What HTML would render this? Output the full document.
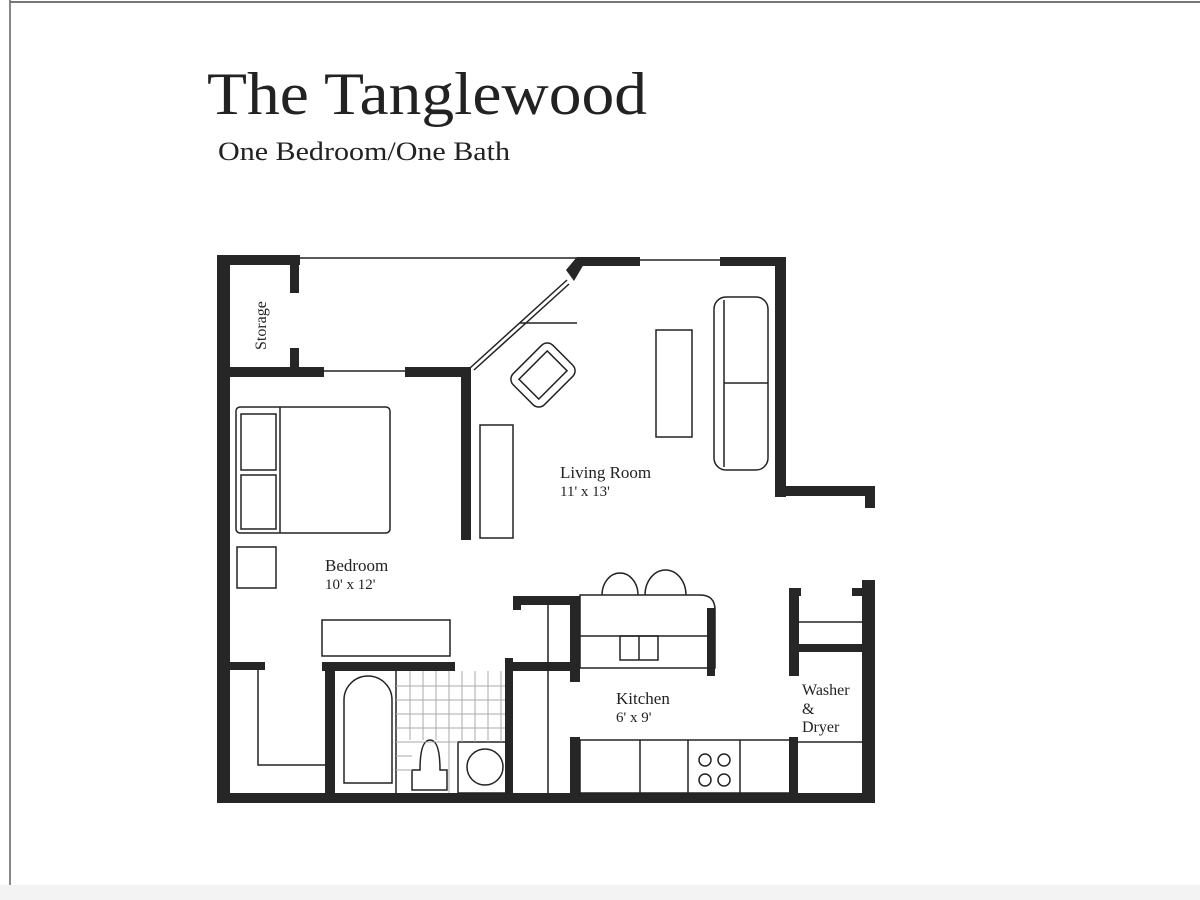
<!DOCTYPE html>
<html><head><style>
html,body{margin:0;padding:0;background:#fff;}
svg{display:block;}
text{font-family:"Liberation Serif",serif;fill:#222;}
</style></head><body>
<svg width="1200" height="900" viewBox="0 0 1200 900">
<rect width="1200" height="900" fill="#fff"/>
<line x1="10" y1="0" x2="10" y2="900" stroke="#888" stroke-width="2"/>
<line x1="10" y1="2" x2="1200" y2="2" stroke="#777" stroke-width="2"/>
<rect x="0" y="885" width="1200" height="15" fill="#f3f3f3"/>
<text x="207" y="114" font-size="60" textLength="440" lengthAdjust="spacingAndGlyphs">The Tanglewood</text>
<text x="218" y="160" font-size="26" textLength="292" lengthAdjust="spacingAndGlyphs">One Bedroom/One Bath</text>

<g fill="#262626">
<rect x="217" y="255" width="13" height="548"/>
<rect x="217" y="255" width="83" height="10"/>
<rect x="290" y="255" width="9" height="38"/>
<rect x="290" y="348" width="9" height="26"/>
<rect x="217" y="367" width="107" height="10"/>
<rect x="405" y="367" width="66" height="10"/>
<rect x="461" y="367" width="10" height="173"/>
<polygon points="566,270 576,258 584,264 574,281"/>
<rect x="577" y="257" width="63" height="9"/>
<rect x="720" y="257" width="66" height="9"/>
<rect x="775" y="257" width="11" height="240"/>
<rect x="775" y="486" width="100" height="10"/>
<rect x="865" y="486" width="10" height="22"/>
<rect x="217" y="793" width="658" height="10"/>
<rect x="862" y="580" width="13" height="223"/>
<rect x="852" y="588" width="12" height="8"/>
<rect x="789" y="588" width="10" height="88"/>
<rect x="789" y="588" width="12" height="8"/>
<rect x="798" y="644" width="64" height="8"/>
<rect x="789" y="737" width="9" height="60"/>
<rect x="513" y="596" width="67" height="9"/>
<rect x="513" y="596" width="8" height="14"/>
<rect x="570" y="596" width="10" height="86"/>
<rect x="707" y="608" width="8" height="68"/>
<rect x="570" y="737" width="10" height="60"/>
<rect x="217" y="662" width="48" height="8"/>
<rect x="322" y="662" width="133" height="9"/>
<rect x="325" y="662" width="10" height="135"/>
<rect x="505" y="658" width="8" height="140"/>
<rect x="505" y="662" width="75" height="9"/>
</g>

<g fill="none" stroke="#222" stroke-width="1.5">
<line x1="299" y1="258" x2="577" y2="258"/>
<line x1="640" y1="260" x2="720" y2="260"/>
<line x1="324" y1="371" x2="405" y2="371"/>
<line x1="470" y1="368" x2="567" y2="280"/>
<line x1="474" y1="370" x2="569" y2="284"/>
<line x1="520" y1="323" x2="577" y2="323"/>
<rect x="236" y="407" width="154" height="126" rx="4"/>
<line x1="280" y1="407" x2="280" y2="533"/>
<rect x="241" y="414" width="35" height="56"/>
<rect x="241" y="475" width="35" height="54"/>
<rect x="237" y="547" width="39" height="41"/>
<rect x="322" y="620" width="128" height="36"/>
<polyline points="258,670 258,765 327,765"/>
<rect x="480" y="425" width="33" height="113"/>
<rect x="656" y="330" width="36" height="107"/>
<rect x="714" y="297" width="54" height="173" rx="12"/>
<line x1="724" y1="300" x2="724" y2="467"/>
<line x1="724" y1="383" x2="768" y2="383"/>
<g transform="translate(543,375) rotate(45)">
<rect x="-22" y="-28" width="44" height="56" rx="8"/>
<rect x="-14" y="-20" width="28" height="40"/>
</g>
<path d="M580,595 L700,595 Q715,595 715,610 L715,668 L580,668 Z"/>
<line x1="580" y1="636" x2="710" y2="636"/>
<rect x="620" y="636" width="38" height="24"/>
<line x1="639" y1="636" x2="639" y2="660"/>
<path d="M602,595 A18,22 0 0 1 638,595"/>
<path d="M645,595 A18,22 0 0 1 686,595"/>
<line x1="548" y1="605" x2="548" y2="793"/>
<rect x="580" y="740" width="210" height="53"/>
<line x1="640" y1="740" x2="640" y2="793"/>
<line x1="688" y1="740" x2="688" y2="793"/>
<line x1="740" y1="740" x2="740" y2="793"/>
<circle cx="705" cy="760" r="6"/><circle cx="724" cy="760" r="6"/>
<circle cx="705" cy="780" r="6"/><circle cx="724" cy="780" r="6"/>
<line x1="798" y1="622" x2="862" y2="622"/>
<line x1="798" y1="742" x2="862" y2="742"/>
<path d="M344,783 L344,700 A24,24 0 0 1 392,700 L392,783 Z"/>
<line x1="396" y1="671" x2="396" y2="793"/>
<rect x="458" y="742" width="50" height="51"/>
<circle cx="485" cy="767" r="18"/>
<path d="M412,790 L412,770 L420,770 Q420,740 430,740 Q440,740 440,770 L447,770 L447,790 Z"/>
</g>
<g stroke="#aaa" stroke-width="1">
<line x1="410" y1="671" x2="410" y2="740"/><line x1="423" y1="671" x2="423" y2="740"/>
<line x1="436" y1="671" x2="436" y2="740"/><line x1="449" y1="671" x2="449" y2="793"/>
<line x1="462" y1="671" x2="462" y2="742"/><line x1="475" y1="671" x2="475" y2="742"/>
<line x1="488" y1="671" x2="488" y2="742"/><line x1="501" y1="671" x2="501" y2="742"/>
<line x1="396" y1="686" x2="505" y2="686"/><line x1="396" y1="700" x2="505" y2="700"/>
<line x1="396" y1="714" x2="505" y2="714"/><line x1="396" y1="728" x2="505" y2="728"/>
<line x1="396" y1="742" x2="458" y2="742"/><line x1="396" y1="756" x2="412" y2="756"/>
<line x1="396" y1="770" x2="412" y2="770"/>
</g>
<text x="0" y="0" font-size="16" transform="translate(266,350) rotate(-90)">Storage</text>
<text x="560" y="478" font-size="17">Living Room</text>
<text x="560" y="496" font-size="15">11' x 13'</text>
<text x="325" y="571" font-size="17">Bedroom</text>
<text x="325" y="589" font-size="15">10' x 12'</text>
<text x="616" y="704" font-size="17">Kitchen</text>
<text x="616" y="722" font-size="15">6' x 9'</text>
<text x="802" y="695" font-size="16">Washer</text>
<text x="802" y="714" font-size="16">&amp;</text>
<text x="802" y="732" font-size="16">Dryer</text>
</svg>
</body></html>
